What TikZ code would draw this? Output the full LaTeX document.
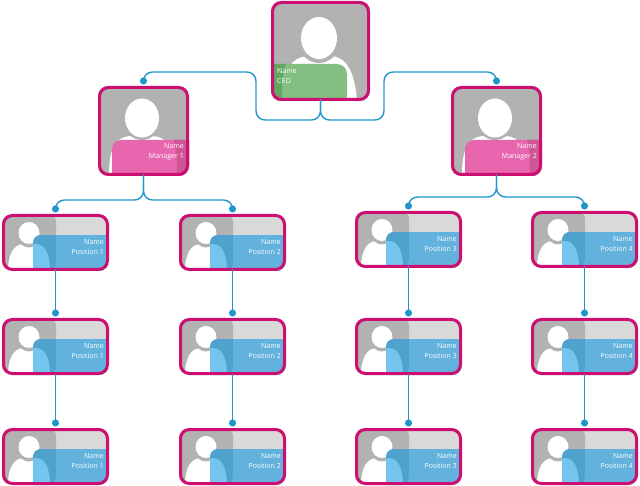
\documentclass[tikz,border=0pt]{standalone}
\usepackage{fontspec}
\setmainfont{Open Sans}
\usetikzlibrary{arrows.meta,calc,positioning}
\definecolor{cardpink}{HTML}{CE0F72}
\definecolor{linkblue}{HTML}{1E96CC}
\definecolor{photogray}{HTML}{B2B2B2}
\definecolor{palegray}{HTML}{D9D9D9}
\definecolor{posblue}{HTML}{62B2DD}
\definecolor{posdark}{HTML}{4FA2CE}
\definecolor{poslight}{HTML}{74C5EE}
\definecolor{mgrpink}{HTML}{E766AE}
\definecolor{mgrdark}{HTML}{CF5594}
\definecolor{ceogreen}{HTML}{82BF80}
\definecolor{ceodark}{HTML}{63A563}
\tikzset{
  cardline/.style={draw=cardpink,line width=3pt,rounded corners=9pt,inner sep=0pt,outer sep=0pt},
  link/.style={draw=linkblue,line width=1.4pt,rounded corners=9pt,shorten >=3pt,-{Circle[length=7pt,width=7pt]}},
  cardtext/.style={text=white,font=\fontsize{7}{10}\selectfont,inner sep=0pt}
}
% small card: name, left, top, label
\newcommand{\poscard}[4]{
  \begin{scope}[shift={(#2,#3)}]
    \begin{scope}
      \clip[rounded corners=10pt] (0,0) rectangle (107,57);
      \fill[palegray] (0,0) rectangle (107,57);
      \def\tabpath{[rounded corners=6pt] (-5,1.5) -- (54,1.5) -- (54,55) -- (-5,55) -- cycle}
      \def\bodypath{(6,57) .. controls (6,40) and (12,30) .. (22,30) -- (34,30) .. controls (44,30) and (48,42) .. (48,57) -- cycle}
      \fill[photogray] \tabpath;
      \fill[white] \bodypath;
      \fill[photogray] (27,22) ellipse (11.5 and 11.5);
      \fill[white] (27,19) ellipse (10.5 and 11);
      \begin{scope}
        \clip[rounded corners=8pt] (31,62) -- (31,21) -- (112,21) -- (112,62) -- cycle;
        \fill[posblue] (31,21) rectangle (107,57);
        \begin{scope}
          \clip \tabpath;
          \fill[posdark] (31,21) rectangle (54,57);
        \end{scope}
        \fill[poslight] \bodypath;
      \end{scope}
    \end{scope}
    \node[cardline,minimum width=104pt,minimum height=54pt] (#1) at (53.5,28.5) {};
    \node[cardtext,align=right,anchor=north east] (#1txt) at (102,25) {Name\\Position #4};
  \end{scope}
}
% manager card: name, left, top, label
\newcommand{\mgrcard}[4]{
  \begin{scope}[shift={(#2,#3)}]
    \begin{scope}
      \clip[rounded corners=10pt] (0,0) rectangle (91,90);
      \fill[photogray] (0,0) rectangle (91,90);
      \fill[white] (11,90) .. controls (11,65) and (16,50) .. (34,50) -- (54,50) .. controls (68,50) and (78,62) .. (79,90) -- cycle;
      \fill[photogray] (44,34) ellipse (19 and 20);
      \fill[white] (44,32) ellipse (17 and 19.5);
      \fill[mgrpink,rounded corners=9pt] (14,95) -- (14,54) -- (96,54) -- (96,95) -- cycle;
      \fill[mgrdark] (79,90) .. controls (79,75) and (78,62) .. (76,54) -- (91,54) -- (91,90) -- cycle;
    \end{scope}
    \node[cardline,minimum width=88pt,minimum height=87pt] (#1) at (45.5,45) {};
    \node[cardtext,align=right,anchor=north east] (#1txt) at (86,57) {Name\\Manager #4};
  \end{scope}
}
\begin{document}
\begin{tikzpicture}[x=1pt,y=-1pt]
  \useasboundingbox (0,0) rectangle (640,486);
  %CEO card
  \begin{scope}[shift={(271,1)}]
    \begin{scope}
      \clip[rounded corners=10pt] (0,0) rectangle (99,100);
      \fill[photogray] (0,0) rectangle (99,100);
      \fill[white] (10,100) .. controls (12,72) and (18,56) .. (38,55) -- (60,55) .. controls (76,56) and (84,72) .. (86,100) -- cycle;
      \fill[photogray] (48,42) ellipse (20 and 20);
      \fill[white] (48,37) ellipse (18 and 21);
      \fill[ceogreen,rounded corners=10pt] (-5,105) -- (-5,63) -- (76,63) -- (76,105) -- cycle;
      \fill[ceodark] (0,63) -- (15,63) .. controls (11,72) and (11,85) .. (11,100) -- (0,100) -- cycle;
    \end{scope}
    \node[cardline,minimum width=96pt,minimum height=97pt] (ceo) at (49.5,50) {};
    \node[cardtext,align=left,anchor=north west] (ceotxt) at (6,67) {Name\\CEO};
  \end{scope}
  %Manager cards
  \mgrcard{mgra}{98}{86}{1}
  \mgrcard{mgrb}{451}{86}{2}
  %Position cards
  \foreach \n/\x/\y/\t in {a1/2/214/1,a2/2/318/1,a3/2/428/1,
                           b1/179/214/2,b2/179/318/2,b3/179/428/2,
                           c1/355/211/3,c2/355/318/3,c3/355/428/3,
                           d1/531/211/4,d2/531/318/4,d3/531/428/4} {
    \poscard{\n}{\x}{\y}{\t}
  }
  %Draw lines
  \draw[link] (ceo.south) -- (ceo.south |- 0,120) -- (256,120) -- (256,72) -- (mgra.north |- 0,72) -- (mgra.north);
  \draw[link] (ceo.south) -- (ceo.south |- 0,120) -- (384,120) -- (384,72) -- (mgrb.north |- 0,72) -- (mgrb.north);
  \draw[link] (mgra.south) -- (mgra.south |- 0,200) -- (a1.north |- 0,200) -- (a1.north);
  \draw[link] (mgra.south) -- (mgra.south |- 0,200) -- (b1.north |- 0,200) -- (b1.north);
  \draw[link] (mgrb.south) -- (mgrb.south |- 0,197) -- (c1.north |- 0,197) -- (c1.north);
  \draw[link] (mgrb.south) -- (mgrb.south |- 0,197) -- (d1.north |- 0,197) -- (d1.north);
  \foreach \c in {a,b,c,d} {
    \draw[link] (\c1.south) -- (\c2.north);
    \draw[link] (\c2.south) -- (\c3.north);
  }
\end{tikzpicture}
\end{document}
